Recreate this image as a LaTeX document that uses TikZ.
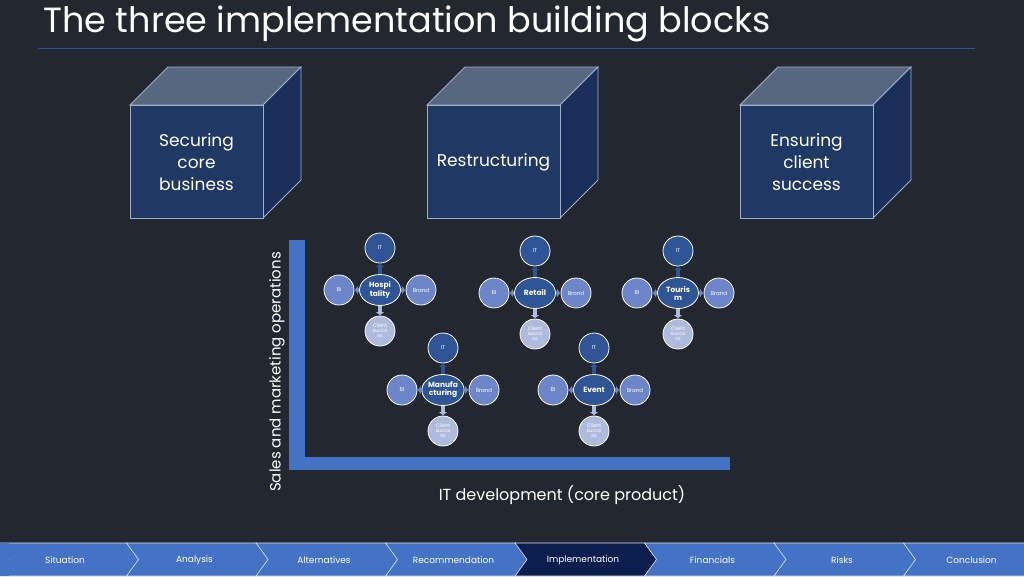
\documentclass[tikz,border=0pt]{standalone}
\usepackage{fontspec}
\setmainfont{Poppins}
\usetikzlibrary{arrows.meta,shapes.geometric}
\definecolor{bg}{HTML}{232830}
\definecolor{front}{HTML}{1F3864}
\definecolor{topc}{HTML}{56677F}
\definecolor{side}{HTML}{1A2E5A}
\definecolor{edge}{HTML}{9DB0C8}
\definecolor{axis}{HTML}{4472C4}
\definecolor{dk}{HTML}{2F5597}
\definecolor{md}{HTML}{6C86C9}
\definecolor{lt}{HTML}{AEBBDD}
\definecolor{chev}{HTML}{4472C4}
\definecolor{chevd}{HTML}{0C1E4E}
\tikzset{
 sat/.style={circle,draw=white,line width=0.8pt,minimum size=30pt,inner sep=0pt,text=white,font=\fontsize{5.5}{6}\selectfont,align=center},
 it/.style={sat,fill=dk},
 side/.style={sat,fill=md},
 cli/.style={sat,fill=lt,text=white,font=\fontsize{5}{5}\selectfont},
 ctr/.style={ellipse,draw=white,line width=0.8pt,minimum width=41pt,minimum height=31pt,inner sep=0pt,fill=dk,text=white,font=\bfseries\fontsize{7.5}{8}\selectfont,align=center},
 conn/.style={draw=#1,line width=3.5pt,-{Triangle[length=3pt,width=8pt]},shorten >=0.5pt,shorten <=0.5pt},
 cubetxt/.style={text=white,font=\fontsize{17}{22}\selectfont,align=center},
}
\begin{document}
\begin{tikzpicture}[x=1pt,y=-1pt]
\fill[bg] (0,0) rectangle (1024,576);
\useasboundingbox (0,0) rectangle (1024,576);
\node[anchor=west,text=white,font=\fontsize{35}{38}\selectfont] (title) at (40,24) {The three implementation building blocks};
\draw[dk,line width=0.6pt] (38,48) -- (975,48);
% cubes
\foreach \x/\t/\n in {130/{Securing\\core\\business}/c1,427/{Restructuring}/c2,740/{Ensuring\\client\\success}/c3}{
 \filldraw[fill=topc,draw=edge,line width=0.8pt] (\x,105) -- (\x+38,67) -- (\x+171,67) -- (\x+133,105) -- cycle;
 \filldraw[fill=side,draw=edge,line width=0.8pt] (\x+133,105) -- (\x+171,67) -- (\x+171,180) -- (\x+133,218) -- cycle;
 \filldraw[fill=front,draw=edge,line width=0.8pt] (\x,105) rectangle (\x+133,218);
 \node[cubetxt] (\n) at (\x+66.5,162) {\t};
}
% axes
\fill[axis] (289,240) rectangle (305,470);
\fill[axis] (305,457) rectangle (730,470);
\node[rotate=90,text=white,font=\fontsize{15}{18}\selectfont] (ylab) at (277,372) {Sales and marketing operations};
\node[text=white,font=\fontsize{16}{18}\selectfont] (xlab) at (562,495) {IT development (core product)};
% clusters
\foreach \n/\x/\y/\t in {h/380/290/{Hospi\\tality},r/535/293/{Retail},t/678/293/{Touris\\m},m/443/390/{Manufa\\cturing},e/594/390/{Event}}{
 \node[ctr] (\n) at (\x,\y) {\t};
 \node[it] (\n it) at (\x,\y-42) {IT};
 \node[side] (\n bi) at (\x-41,\y) {BI};
 \node[side] (\n br) at (\x+41,\y) {Brand};
 \node[cli] (\n cl) at (\x,\y+41) {Client\\succe\\ss};
 \draw[conn=dk] (\n) -- (\n it);
 \draw[conn=md] (\n) -- (\n bi);
 \draw[conn=md] (\n) -- (\n br);
 \draw[conn=lt] (\n) -- (\n cl);
}
% navigation bar
\foreach \i/\t/\c in {0/Situation/chev,1/Analysis/chev,2/Alternatives/chev,3/Recommendation/chev,4/Implementation/chevd,5/Financials/chev,6/Risks/chev,7/Conclusion/chev}{
 \pgfmathsetmacro{\a}{\i*129.5-3}
 \filldraw[fill=\c,draw=white!80!chev,line width=0.6pt] (\a,543) -- (\a+130,543) -- (\a+142,559.5) -- (\a+130,576) -- (\a,576) -- (\a+12,559.5) -- cycle;
 \node[text=white,font=\fontsize{9}{10}\selectfont] (nav\i) at (\a+68,560) {\t};
}
\fill[chev] (0,543.3) rectangle (9,575.7);
\end{tikzpicture}
\end{document}
